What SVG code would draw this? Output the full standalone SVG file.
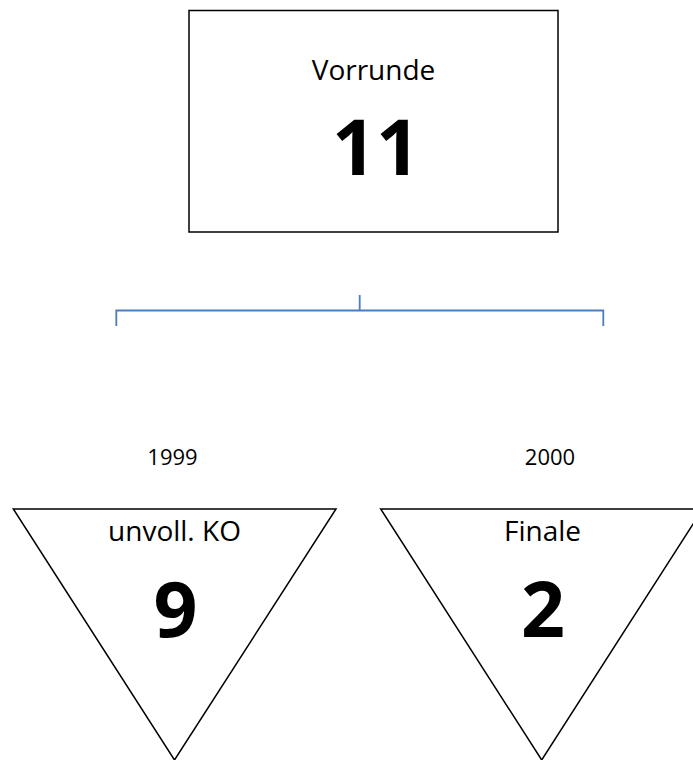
<svg xmlns="http://www.w3.org/2000/svg" width="693" height="760" viewBox="0 0 693 760">
<style>
.shape{fill:#ffffff;stroke:#000000;stroke-width:1.5}
.lbl{font-family:"Open Sans","Liberation Sans",sans-serif;font-size:28px;fill:#000000;text-anchor:middle}
.num{font-family:"Open Sans","Liberation Sans",sans-serif;font-size:77px;font-weight:bold;fill:#000000;text-anchor:middle}
.yr{font-family:"Open Sans","Liberation Sans",sans-serif;font-size:22px;fill:#000000;text-anchor:middle}
.conn{fill:none;stroke:#4a7ebb;stroke-width:1.8}
</style>
<rect width="693" height="760" fill="#ffffff"/>
<g id="vorrunde">
<rect class="shape" x="189" y="10.5" width="369" height="221.5"/>
<text class="lbl" x="373.5" y="80">Vorrunde</text>
<text class="num" x="376" y="175">11</text>
</g>
<g id="connectors">
<path class="conn" d="M359.7,295 V310.5 M116.3,326 V310.5 H603.3 V326"/>
</g>
<g id="year1999">
<text class="yr" x="172.5" y="465">1999</text>
</g>
<g id="year2000">
<text class="yr" x="550" y="465">2000</text>
</g>
<g id="ko">
<polygon class="shape" points="13.3,509 336,509 174.5,760"/>
<text class="lbl" x="174.5" y="541">unvoll. KO</text>
<text class="num" x="175.5" y="637">9</text>
</g>
<g id="finale">
<polygon class="shape" points="380.7,509 702.7,509 541.7,760"/>
<text class="lbl" x="542.5" y="541">Finale</text>
<text class="num" x="543" y="637">2</text>
</g>
</svg>
